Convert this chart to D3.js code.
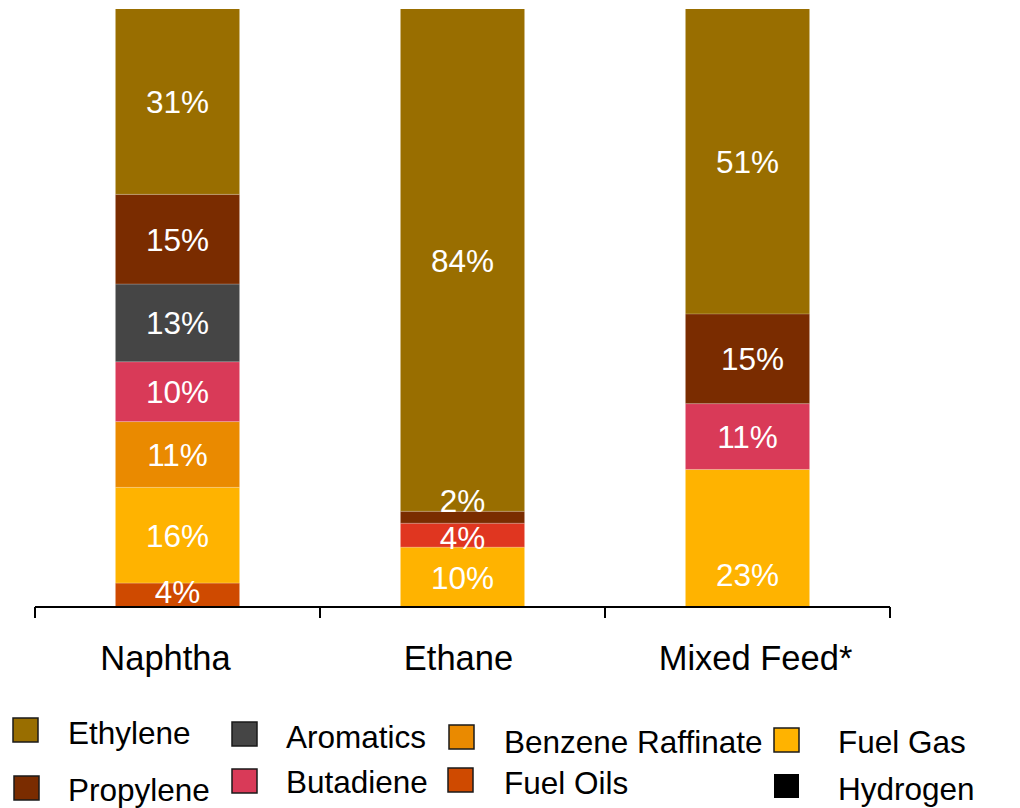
<!DOCTYPE html>
<html>
<head>
<meta charset="utf-8">
<script src="https://cdn.jsdelivr.net/npm/d3@7"></script>
<style>
  html, body { margin: 0; padding: 0; background: #fff; }
  svg { display: block; font-family: Arial, "Liberation Sans", sans-serif; }
</style>
</head>
<body>
<svg id="chart" width="1020" height="808"></svg>
<script>
// ---- data ----
const categories = ["Naphtha", "Ethane", "Mixed Feed*"];
// series listed top -> bottom of the stack
const seriesNames = ["Ethylene", "Propylene", "Aromatics", "Butadiene", "Benzene Raffinate", "Other", "Fuel Gas", "Fuel Oils", "Hydrogen"];
const seriesColors = ["#996e00", "#7a2c00", "#454545", "#d93a58", "#ea8a00", "#e03620", "#ffb300", "#cf4a00", "#000000"];
// values per series (percent), order follows categories
const ethylene   = [31, 84, 51];
const propylene  = [15, 2, 15];
const aromatics  = [13, 0, 0];
const butadiene  = [10, 0, 11];
const benzeneRaf = [11, 0, 0];
const other      = [0, 4, 0];
const fuelGas    = [16, 10, 23];
const fuelOils   = [4, 0, 0];
const hydrogen   = [0, 0, 0];
const seriesValues = [ethylene, propylene, aromatics, butadiene, benzeneRaf, other, fuelGas, fuelOils, hydrogen];
const legendSeries = ["Ethylene", "Propylene", "Aromatics", "Butadiene", "Benzene Raffinate", "Fuel Oils", "Fuel Gas", "Hydrogen"];
const yDomain = [0, 100];

// ---- drawing ----
const svg = d3.select("#chart");
const x = d3.scaleBand().domain(categories).range([35, 890]).paddingInner(0).paddingOuter(0);
const y = d3.scaleLinear().domain(yDomain).range([607, 9]);
const barFrac = 0.435;
const color = d3.scaleOrdinal().domain(seriesNames).range(seriesColors);

const rows = categories.map((c, i) => {
  const r = { category: c };
  seriesNames.forEach((s, k) => r[s] = seriesValues[k][i]);
  return r;
});
const stackKeys = seriesNames.slice().reverse();
const stacked = d3.stack().keys(stackKeys)(rows);

const bw = x.bandwidth() * barFrac;
const gBars = svg.append("g");
stacked.forEach(layer => {
  layer.forEach(d => {
    const v = d[1] - d[0];
    if (v <= 0) return;
    const cx = x(d.data.category) + x.bandwidth() / 2;
    gBars.append("rect")
      .attr("x", cx - bw / 2)
      .attr("y", y(d[1]))
      .attr("width", bw)
      .attr("height", y(d[0]) - y(d[1]))
      .attr("fill", color(layer.key));
  });
});
// thin light separators between segments
stacked.forEach(layer => {
  layer.forEach(d => {
    if (d[1] - d[0] <= 0 || d[0] === 0) return;
    const cx = x(d.data.category) + x.bandwidth() / 2;
    gBars.append("line")
      .attr("x1", cx - bw / 2).attr("x2", cx + bw / 2)
      .attr("y1", y(d[0])).attr("y2", y(d[0]))
      .attr("stroke", "rgba(255,255,255,0.25)").attr("stroke-width", 1);
  });
});

// value labels (small nudges to match the original placement)
const nudge = { "Ethane|Propylene": [0, -17], "Naphtha|Fuel Oils": [0, -4], "Mixed Feed*|Fuel Gas": [0, 36], "Mixed Feed*|Propylene": [5, 0], "Ethane|Other": [0, 2] };
const gLabels = svg.append("g");
stacked.forEach(layer => {
  layer.forEach(d => {
    const v = d[1] - d[0];
    if (v <= 0) return;
    const cx = x(d.data.category) + x.bandwidth() / 2;
    const cy = (y(d[0]) + y(d[1])) / 2;
    const n = nudge[d.data.category + "|" + layer.key] || [0, 0];
    gLabels.append("text")
      .attr("x", cx + n[0])
      .attr("y", cy + n[1] + 11.5)
      .attr("text-anchor", "middle")
      .attr("fill", "#ffffff")
      .attr("font-size", 31.5)
      .text(v + "%");
  });
});

// axis
const gAxis = svg.append("g").attr("transform", "translate(0,607)");
gAxis.append("line").attr("x1", 35).attr("x2", 890).attr("y1", 0).attr("y2", 0)
  .attr("stroke", "#000").attr("stroke-width", 2);
const tickPos = categories.map(c => x(c)).concat([x(categories[categories.length - 1]) + x.bandwidth()]);
tickPos.forEach(t => {
  gAxis.append("line").attr("x1", t).attr("x2", t).attr("y1", 0).attr("y2", 11)
    .attr("stroke", "#000").attr("stroke-width", 2);
});
const catNudge = [-12, -4, 8];
categories.forEach((c, i) => {
  svg.append("text")
    .attr("x", x(c) + x.bandwidth() / 2 + catNudge[i])
    .attr("y", 670)
    .attr("text-anchor", "middle")
    .attr("font-size", 34.5)
    .attr("fill", "#000")
    .text(c);
});

// legend (irregular layout as in original)
const legendPos = {
  "Ethylene":          { sx: 13,  sy: 718, tx: 68,  ty: 744 },
  "Propylene":         { sx: 14,  sy: 776, tx: 68,  ty: 801 },
  "Aromatics":         { sx: 232, sy: 722, tx: 286, ty: 748 },
  "Butadiene":         { sx: 232, sy: 769, tx: 286, ty: 793 },
  "Benzene Raffinate": { sx: 449, sy: 725, tx: 504, ty: 753 },
  "Fuel Oils":         { sx: 448, sy: 768, tx: 504, ty: 794 },
  "Fuel Gas":          { sx: 774, sy: 728, tx: 838, ty: 753 },
  "Hydrogen":          { sx: 774, sy: 774, tx: 838, ty: 800 }
};
const gLeg = svg.append("g");
legendSeries.forEach(s => {
  const p = legendPos[s];
  gLeg.append("rect")
    .attr("x", p.sx).attr("y", p.sy).attr("width", 25).attr("height", 24)
    .attr("fill", color(s))
    .attr("stroke", s === "Hydrogen" ? "none" : "#1a1a1a")
    .attr("stroke-width", 1.5);
  gLeg.append("text")
    .attr("x", p.tx).attr("y", p.ty)
    .attr("font-size", 31.5)
    .attr("fill", "#000")
    .text(s);
});
</script>
</body>
</html>
